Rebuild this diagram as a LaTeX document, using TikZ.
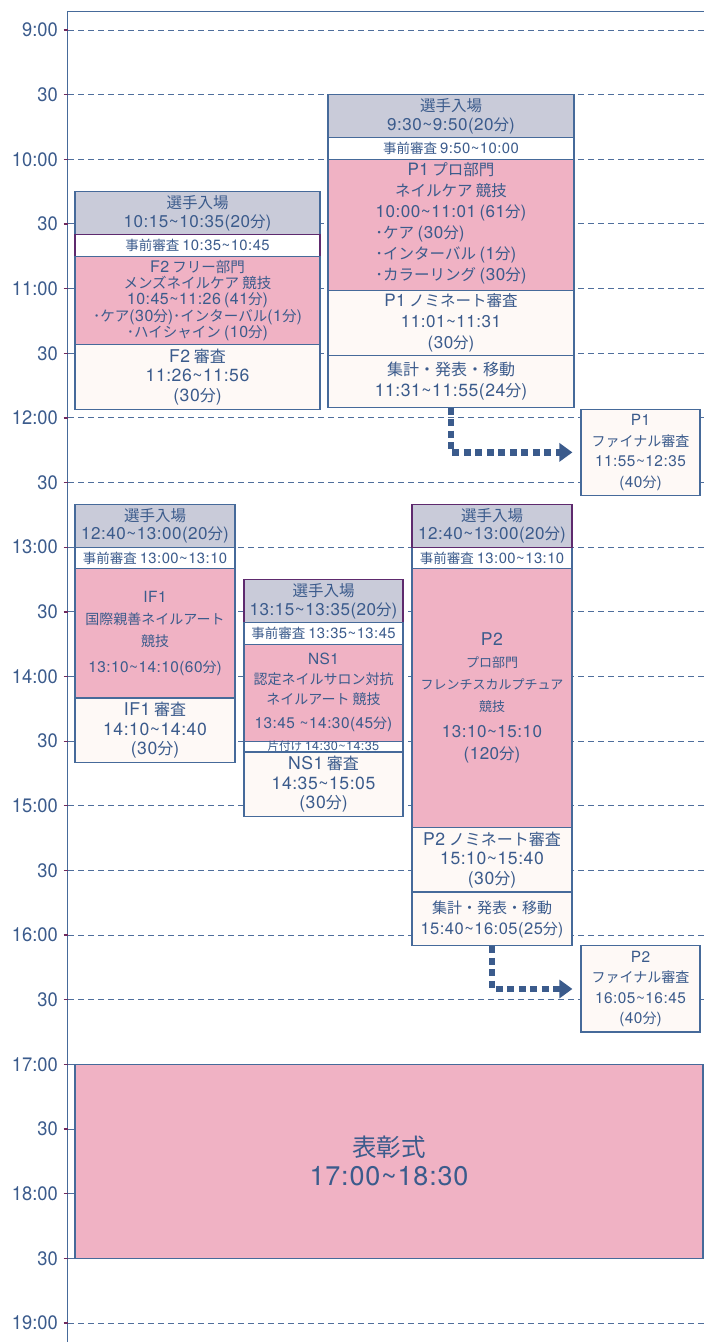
\documentclass[tikz,border=0pt]{standalone}
\usepackage{fontspec}
\setmainfont{Noto Sans CJK JP}
\newfontfamily\hourfont[FakeStretch=0.94]{TeX Gyre Heros}
\newfontfamily\latinfont[Scale=1.1,LetterSpace=3]{TeX Gyre Heros}
\usepackage{tikz}
\usetikzlibrary{arrows.meta,calc}

\definecolor{ink}{HTML}{3B5B8C}
\definecolor{edge}{HTML}{466A9A}
\definecolor{gridblue}{HTML}{4F6E9C}
\definecolor{tickpurple}{HTML}{6E2A5E}
\definecolor{plum}{HTML}{5E2A6E}
\definecolor{entrygray}{HTML}{C9CBD9}
\definecolor{compink}{HTML}{F0B2C4}
\definecolor{cream}{HTML}{FEF9F6}
\newcommand\wave{\textasciitilde}
\newcommand\lat[1]{{\latinfont #1}}
\newcommand\period[2]{\lat{#1\wave#2}}
\newcommand\dur[1]{\lat{(#1}分\lat{)}}

\begin{document}
\begin{tikzpicture}[
x=1pt, y=-2.155pt,
hourlabel/.style={
  text=ink,
  font=\hourfont\fontsize{19.5}{20}\selectfont,
  anchor=east,
  inner sep=0pt
  },
gridline/.style={draw=gridblue, line width=0.9pt, dash pattern=on 6pt off 4pt},
tickmark/.style={draw=tickpurple, line width=1.3pt},
frameline/.style={draw=edge, line width=1.3pt},
cell/.style n args={4}{
  at={($(#1,#3)!0.5!(#2,#4)$)},
  minimum width={(#2-#1)*1pt},
  minimum height={(#4-#3)*2.155pt}
  },
slot/.style={
  draw=edge,
  line width=1.2pt,
  inner sep=0pt,
  text=ink,
  align=center,
  font=\fontsize{16}{19.5}\selectfont
  },
entrybox/.style={slot, fill=entrygray, font=\fontsize{15.5}{18.5}\selectfont},
prebox/.style={slot, fill=white, font=\fontsize{13.5}{14}\selectfont},
compbox/.style={slot, fill=compink},
judgebox/.style={slot, fill=cream},
flow/.style={
  draw=ink,
  line width=6.5pt,
  dash pattern=on 7pt off 4.5pt,
  -{Triangle[length=13pt,width=18pt]},
  shorten >=8pt
  }
]
\useasboundingbox (0,-13.92) rectangle (704,608.82);

% time axis
\draw[frameline] (67.5,608.82) -- (67.5,-8.5) -- (704,-8.5);
\foreach \m/\lab in {0/9:00,30/30,60/10:00,90/30,120/11:00,150/30,180/12:00,
  210/30,240/13:00,270/30,300/14:00,330/30,360/15:00,390/30,420/16:00,
  450/30,480/17:00,510/30,540/18:00,570/30,600/19:00}
{
  \draw[gridline] (68,\m) -- (704,\m);
  \draw[tickmark] (63.5,\m) -- (68,\m);
  \node[hourlabel] (hour\m) at (58,\m) {\lab};
}

% F2
\node[entrybox, cell={75}{320}{75}{95}] (f2entry) {選手入場\\\period{10:15}{10:35}\dur{20}};
\node[prebox, draw=plum, cell={75}{320}{95}{105}] (f2pre) {事前審査 \period{10:35}{10:45}};
\node[compbox, font=\fontsize{14.5}{16.2}\selectfont, cell={75}{320}{105}{146}] (f2comp)
  {\lat{F2} フリー部門\\メンズネイルケア 競技\\\period{10:45}{11:26} \dur{41}\\･ケア\dur{30}･インターバル\dur{1}\\･ハイシャイン \dur{10}};
\node[judgebox, cell={75}{320}{146}{176}] (f2judge) {\lat{F2} 審査\\\period{11:26}{11:56}\\\dur{30}};

% P1
\node[entrybox, cell={328}{574}{30}{50}] (p1entry) {選手入場\\\period{9:30}{9:50}\dur{20}};
\node[prebox, cell={328}{574}{50}{60}] (p1pre) {事前審査 \period{9:50}{10:00}};
\node[compbox, font=\fontsize{15.5}{21}\selectfont, cell={328}{574}{60}{121}] (p1comp)
  {\lat{P1} プロ部門\\ネイルケア 競技\\\period{10:00}{11:01} \dur{61}\\
   \begin{tabular}[t]{@{}l@{}}･ケア \dur{30}\\･インターバル \dur{1}\\･カラーリング \dur{30}\end{tabular}};
\node[judgebox, font=\fontsize{15.5}{21}\selectfont, cell={328}{574}{121}{151}] (p1nom)
  {\lat{P1} ノミネート審査\\\period{11:01}{11:31}\\\dur{30}};
\node[judgebox, font=\fontsize{16}{21}\selectfont, cell={328}{574}{151}{175}] (p1sum)
  {集計・発表・移動\\\period{11:31}{11:55}\dur{24}};
\node[judgebox, font=\fontsize{14}{20.5}\selectfont, cell={581}{700}{176}{216}] (p1final)
  {\lat{P1}\\ファイナル審査\\\period{11:55}{12:35}\\\dur{40}};
\draw[flow] (p1sum.south) |- (p1final.west);

% IF1
\node[entrybox, cell={75}{235}{220}{240}] (if1entry) {選手入場\\\period{12:40}{13:00}\dur{20}};
\node[prebox, cell={75}{235}{240}{250}] (if1pre) {事前審査 \period{13:00}{13:10}};
\node[compbox, font=\fontsize{14}{22}\selectfont, cell={75}{235}{250}{310}] (if1comp)
  {\lat{IF1}\\国際親善ネイルアート\\競技\\[4pt]\period{13:10}{14:10}\dur{60}};
\node[judgebox, cell={75}{235}{310}{340}] (if1judge)
  {\lat{IF1} 審査\\\period{14:10}{14:40}\\\dur{30}};

% NS1
\node[entrybox, draw=plum, cell={244}{403}{255}{275}] (ns1entry) {選手入場\\\period{13:15}{13:35}\dur{20}};
\node[prebox, cell={244}{403}{275}{285}] (ns1pre) {事前審査 \period{13:35}{13:45}};
\node[compbox, font=\fontsize{14}{20}\selectfont, cell={244}{403}{285}{330}] (ns1comp)
  {\lat{NS1}\\認定ネイルサロン対抗\\ネイルアート 競技\\[4pt]\lat{13:45 \wave14:30}\dur{45}};
\node[prebox, font=\fontsize{11.5}{12}\selectfont, cell={244}{403}{330}{335}] (ns1clear)
  {片付け \period{14:30}{14:35}};
\node[judgebox, cell={244}{403}{335}{365}] (ns1judge)
  {\lat{NS1} 審査\\\period{14:35}{15:05}\\\dur{30}};

% P2
\node[prebox, cell={412}{572}{240}{250}] (p2pre) {事前審査 \period{13:00}{13:10}};
\node[entrybox, draw=plum, cell={412}{572}{220}{240}] (p2entry) {選手入場\\\period{12:40}{13:00}\dur{20}};
\node[compbox, font=\fontsize{13}{22}\selectfont, cell={412}{572}{250}{370}] (p2comp)
  {{\fontsize{16}{20}\selectfont\lat{P2}}\\プロ部門\\フレンチスカルプチュア\\競技\\[4pt]
   {\fontsize{15.5}{21}\selectfont\period{13:10}{15:10}}\\{\fontsize{15.5}{20}\selectfont\dur{120}}};
\node[judgebox, cell={412}{572}{370}{400}] (p2nom)
  {\lat{P2} ノミネート審査\\\period{15:10}{15:40}\\\dur{30}};
\node[judgebox, font=\fontsize{15}{21}\selectfont, cell={412}{572}{400}{425}] (p2sum)
  {集計・発表・移動\\\period{15:40}{16:05}\dur{25}};
\node[judgebox, font=\fontsize{14}{20.5}\selectfont, cell={581}{700}{425}{465}] (p2final)
  {\lat{P2}\\ファイナル審査\\\period{16:05}{16:45}\\\dur{40}};
\draw[flow] (p2sum.south) |- (p2final.west);

% ceremony
\node[compbox, font=\fontsize{24.5}{29}\selectfont, cell={75}{703}{480}{570}] (ceremony)
  {表彰式\\\period{17:00}{18:30}};

\end{tikzpicture}
\end{document}
